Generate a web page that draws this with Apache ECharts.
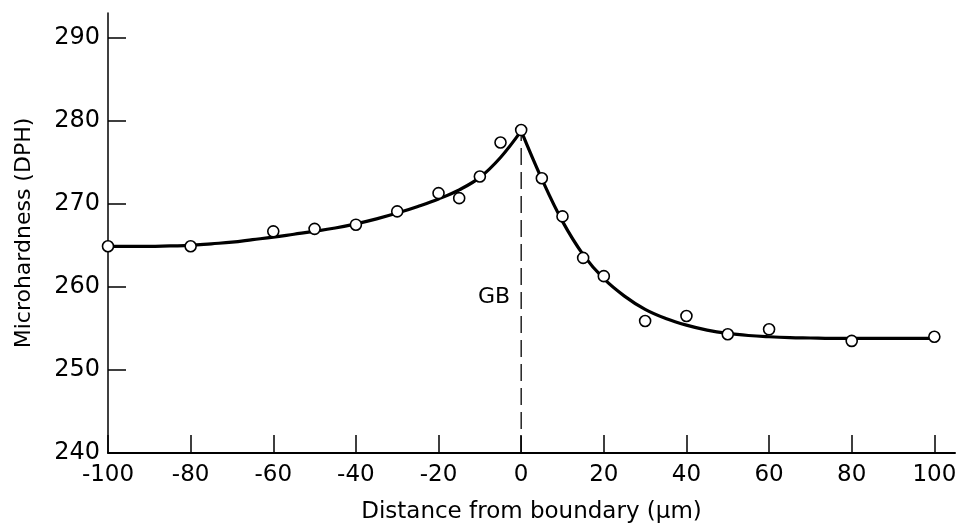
<!DOCTYPE html>
<html>
<head>
<meta charset="utf-8">
<script src="https://cdn.jsdelivr.net/npm/echarts@6/dist/echarts.min.js"></script>
<style>
  html, body { margin: 0; padding: 0; background: #fff; }
  #chart { width: 960px; height: 529px; }
</style>
</head>
<body>
<div id="chart"></div>
<script>
// Measured microhardness across the grain boundary
const pointX = [-100, -80, -60, -50, -40, -30, -20, -15, -10, -5, 0, 5, 10, 15, 20, 30, 40, 50, 60, 80, 100];
const pointY = [264.9, 264.9, 266.7, 267.0, 267.5, 269.1, 271.3, 270.7, 273.3, 277.4, 278.9, 273.1, 268.5, 263.5, 261.3, 255.9, 256.5, 254.3, 254.9, 253.5, 254.0];

// Fitted curve, left and right of the boundary (cusp at 0), sampled every 5 µm
const leftCurveX = [-100, -95, -90, -85, -80, -75, -70, -65, -60, -55, -50, -45, -40, -35, -30, -25, -20, -15, -10, -5, 0];
const leftCurveY = [264.9, 264.9, 264.9, 264.95, 265.0, 265.2, 265.4, 265.7, 266.0, 266.35, 266.7, 267.1, 267.6, 268.2, 268.9, 269.7, 270.6, 271.7, 273.2, 275.6, 278.8];
const rightCurveX = [0, 5, 10, 15, 20, 25, 30, 35, 40, 45, 50, 55, 60, 65, 70, 75, 80, 85, 90, 95, 100];
const rightCurveY = [278.8, 273.0, 267.9, 263.9, 261.0, 258.9, 257.3, 256.2, 255.4, 254.8, 254.4, 254.15, 254.0, 253.9, 253.85, 253.8, 253.8, 253.8, 253.8, 253.8, 253.8];

// Grain boundary marker
const boundaryX = [0, 0];
const boundaryY = [240, 278.2];
const boundaryLabel = 'GB';
const boundaryLabelY = 258.7;

// Axis ticks
const xTicks = [-100, -80, -60, -40, -20, 0, 20, 40, 60, 80, 100];
const yTicks = [240, 250, 260, 270, 280, 290];

const zip = (xs, ys) => xs.map((x, i) => [x, ys[i]]);
const font = '"DejaVu Sans", sans-serif';

const chart = echarts.init(document.getElementById('chart'), null, { renderer: 'canvas' });
chart.setOption({
  animation: false,
  backgroundColor: '#ffffff',
  grid: { left: 108, right: 5, top: 13, bottom: 73, containLabel: false },
  xAxis: {
    type: 'value',
    min: -100,
    max: 105,
    interval: 20,
    name: 'Distance from boundary (\u03bcm)',
    nameLocation: 'middle',
    nameGap: 48,
    nameTextStyle: { color: '#000', fontFamily: font, fontSize: 23 },
    axisLine: { onZero: false, lineStyle: { color: '#000', width: 2 } },
    axisTick: { inside: true, length: 18, customValues: xTicks, lineStyle: { color: '#000', width: 1.5 } },
    axisLabel: { customValues: xTicks, color: '#000', fontFamily: font, fontSize: 23, margin: 11 },
    splitLine: { show: false }
  },
  yAxis: {
    type: 'value',
    min: 240,
    max: 293,
    interval: 10,
    name: 'Microhardness (DPH)',
    nameLocation: 'middle',
    nameGap: 73,
    nameTextStyle: { color: '#000', fontFamily: font, fontSize: 22 },
    axisLine: { onZero: false, lineStyle: { color: '#000', width: 1.5 } },
    axisTick: { inside: true, length: 18, customValues: yTicks, lineStyle: { color: '#000', width: 1.5 } },
    axisLabel: { customValues: yTicks, color: '#000', fontFamily: font, fontSize: 24, margin: 8 },
    splitLine: { show: false }
  },
  series: [
    {
      type: 'line',
      data: zip(boundaryX, boundaryY),
      symbol: 'none',
      lineStyle: { color: '#000', width: 1.3, type: [17, 7] },
      z: 1
    },
    {
      type: 'scatter',
      data: [[0, boundaryLabelY]],
      symbolSize: 0,
      itemStyle: { opacity: 1 },
      label: {
        show: true,
        position: 'left',
        distance: 11,
        formatter: boundaryLabel,
        color: '#000',
        opacity: 1,
        fontFamily: font,
        fontSize: 22
      },
      silent: true,
      z: 1
    },
    {
      type: 'line',
      data: zip(leftCurveX, leftCurveY),
      smooth: 0.4,
      symbol: 'none',
      lineStyle: { color: '#000', width: 3.2 },
      z: 2
    },
    {
      type: 'line',
      data: zip(rightCurveX, rightCurveY),
      smooth: 0.4,
      symbol: 'none',
      lineStyle: { color: '#000', width: 3.2 },
      z: 2
    },
    {
      type: 'scatter',
      data: zip(pointX, pointY),
      symbol: 'circle',
      symbolSize: 11,
      itemStyle: { color: '#fff', borderColor: '#000', borderWidth: 1.6, opacity: 1 },
      z: 3
    }
  ]
});
</script>
</body>
</html>
